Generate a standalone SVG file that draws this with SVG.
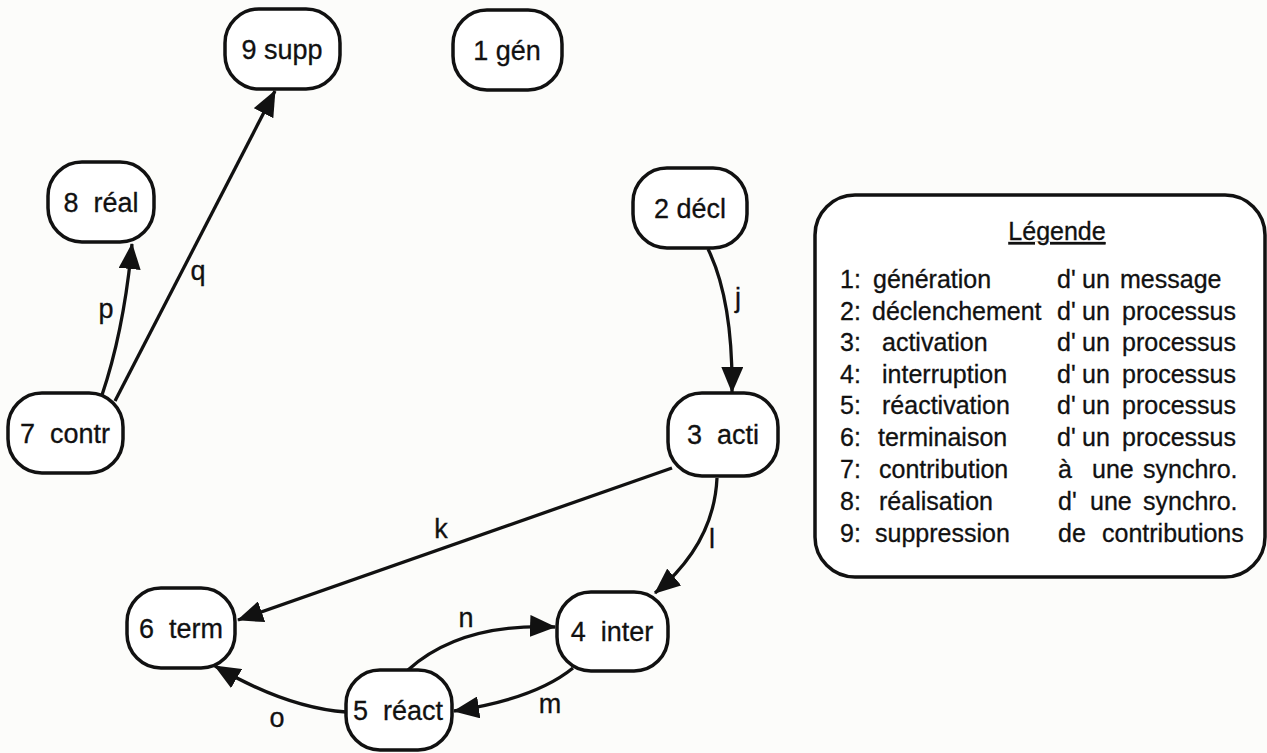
<svg xmlns="http://www.w3.org/2000/svg" width="1267" height="753" viewBox="0 0 1267 753">
  <defs>
    <style>
      .node rect { fill: #ffffff; stroke: #111; stroke-width: 3.5; }
      .node text { font-family: "Liberation Sans", Arial, sans-serif; font-size: 27px; fill: #111; stroke: #111; stroke-width: 0.3; text-anchor: middle; white-space: pre; }
      .edge { fill: none; stroke: #111; stroke-width: 3.3; marker-end: url(#ah); }
      .lbl { font-family: "Liberation Sans", Arial, sans-serif; font-size: 27px; fill: #111; stroke: #111; stroke-width: 0.3; text-anchor: middle; }
      .leg { font-family: "Liberation Sans", Arial, sans-serif; font-size: 25px; fill: #111; stroke: #111; stroke-width: 0.3; white-space: pre; }
    </style>
    <marker id="ah" markerUnits="userSpaceOnUse" markerWidth="26" markerHeight="22" refX="25" refY="11" orient="auto">
      <path d="M0,0 L26,11 L0,22 z" fill="#111"/>
    </marker>
  </defs>

  <rect width="1267" height="753" fill="#fcfcfa"/>

  <!-- connectors -->
  <g id="connectors">
    <path id="e-q" class="edge" d="M115,401 L275,91"/>
    <path id="e-p" class="edge" d="M102,395 Q124,330 132,244"/>
    <path id="e-j" class="edge" d="M708,249 Q733,300 732,392"/>
    <path id="e-k" class="edge" d="M672,468 L238,620"/>
    <path id="e-l" class="edge" d="M717,478 Q714,544 655,593"/>
    <path id="e-m" class="edge" d="M573,668 Q535,699 454,711"/>
    <path id="e-n" class="edge" d="M408,670 Q460,623 555,627"/>
    <path id="e-o" class="edge" d="M346,712 Q287,708 215,666"/>
    <text class="lbl" x="198" y="280">q</text>
    <text class="lbl" x="106" y="318">p</text>
    <text class="lbl" x="738" y="307">j</text>
    <text class="lbl" x="441" y="538">k</text>
    <text class="lbl" x="712" y="548">l</text>
    <text class="lbl" x="550" y="713">m</text>
    <text class="lbl" x="466" y="627">n</text>
    <text class="lbl" x="277" y="727">o</text>
  </g>

  <!-- nodes -->
  <g id="n9" class="node"><rect x="225" y="9" width="115" height="80" rx="34"/><text x="282" y="59">9 supp</text></g>
  <g id="n1" class="node"><rect x="453" y="10" width="109" height="80" rx="34"/><text x="507" y="60">1 gén</text></g>
  <g id="n8" class="node"><rect x="48" y="162" width="106" height="80" rx="34"/><text x="101" y="212">8  réal</text></g>
  <g id="n7" class="node"><rect x="8" y="393" width="115" height="80" rx="34"/><text x="65" y="443">7  contr</text></g>
  <g id="n2" class="node"><rect x="633" y="168" width="114" height="80" rx="34"/><text x="690" y="218">2 décl</text></g>
  <g id="n3" class="node"><rect x="668" y="393" width="110" height="83" rx="34"/><text x="723" y="444">3  acti</text></g>
  <g id="n6" class="node"><rect x="127" y="588" width="108" height="80" rx="34"/><text x="181" y="638">6  term</text></g>
  <g id="n4" class="node"><rect x="557" y="592" width="111" height="79" rx="34"/><text x="612" y="641">4  inter</text></g>
  <g id="n5" class="node"><rect x="346" y="670" width="106" height="80" rx="34"/><text x="398" y="720">5  réact</text></g>

  <!-- legend -->
  <g id="legend">
    <rect x="815" y="195" width="450" height="382" rx="40" fill="#ffffff" stroke="#111" stroke-width="3.5"/>
    <text class="leg" x="1057" y="240" text-anchor="middle" text-decoration="underline">Légende</text>
    <text class="leg" y="288"><tspan x="840">1:</tspan><tspan x="873">génération</tspan><tspan x="1057">d'</tspan><tspan x="1082">un</tspan><tspan x="1120">message</tspan></text>
    <text class="leg" y="320"><tspan x="840">2:</tspan><tspan x="872">déclenchement</tspan><tspan x="1057">d'</tspan><tspan x="1082">un</tspan><tspan x="1122">processus</tspan></text>
    <text class="leg" y="351"><tspan x="840">3:</tspan><tspan x="882">activation</tspan><tspan x="1057">d'</tspan><tspan x="1082">un</tspan><tspan x="1122">processus</tspan></text>
    <text class="leg" y="383"><tspan x="840">4:</tspan><tspan x="882">interruption</tspan><tspan x="1057">d'</tspan><tspan x="1082">un</tspan><tspan x="1122">processus</tspan></text>
    <text class="leg" y="414"><tspan x="840">5:</tspan><tspan x="882">réactivation</tspan><tspan x="1057">d'</tspan><tspan x="1082">un</tspan><tspan x="1122">processus</tspan></text>
    <text class="leg" y="446"><tspan x="840">6:</tspan><tspan x="878">terminaison</tspan><tspan x="1057">d'</tspan><tspan x="1082">un</tspan><tspan x="1122">processus</tspan></text>
    <text class="leg" y="478"><tspan x="840">7:</tspan><tspan x="879">contribution</tspan><tspan x="1058">à</tspan><tspan x="1092">une</tspan><tspan x="1143">synchro.</tspan></text>
    <text class="leg" y="510"><tspan x="840">8:</tspan><tspan x="879">réalisation</tspan><tspan x="1058">d'</tspan><tspan x="1090">une</tspan><tspan x="1143">synchro.</tspan></text>
    <text class="leg" y="542"><tspan x="840">9:</tspan><tspan x="875">suppression</tspan><tspan x="1058">de</tspan><tspan x="1102">contributions</tspan></text>
  </g>
</svg>
